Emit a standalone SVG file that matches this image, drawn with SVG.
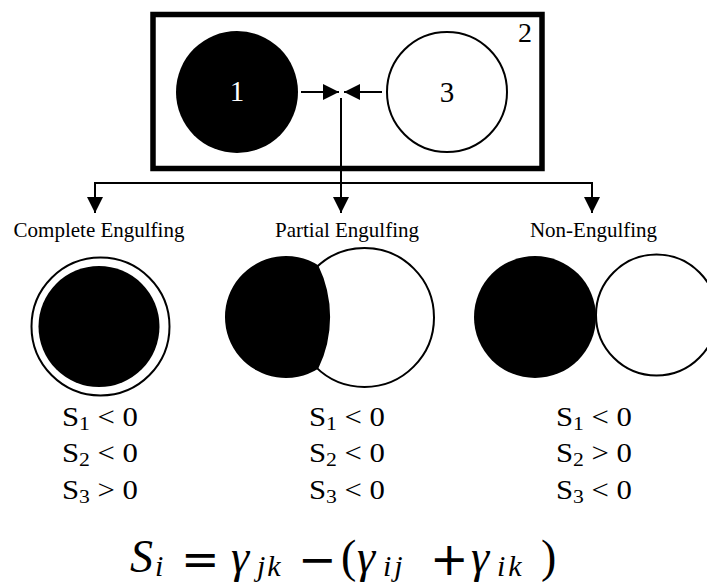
<svg xmlns="http://www.w3.org/2000/svg" width="707" height="585" viewBox="0 0 707 585">
<style>
.t{font-family:"Liberation Serif","Times New Roman",serif;fill:#000}
.lab{font-size:21px;text-anchor:middle}
.s{font-size:27px}
.sub{font-size:19px}
.ln{stroke:#000;stroke-width:2;fill:none}
.wc{fill:#fff;stroke:#000;stroke-width:2}
.f{font-family:"Liberation Serif","Times New Roman",serif;font-size:46px}
.fi{font-style:italic}
.fs{font-style:italic;font-size:30px}
.op{font-family:"DejaVu Sans","Liberation Sans",sans-serif;font-size:46px}
</style>
<defs>
<marker id="ah" markerUnits="userSpaceOnUse" markerWidth="16" markerHeight="16" refX="16" refY="8" orient="auto">
<path d="M0,0 L16,8 L0,16 z" fill="#000"/>
</marker>
</defs>
<rect width="707" height="585" fill="#fff"/>
<g id="box">
<rect x="153" y="14.5" width="389" height="154" fill="#fff" stroke="#000" stroke-width="5.5"/>
<text class="t" x="518" y="42" font-size="28">2</text>
</g>
<g id="drop1">
<circle cx="237" cy="92" r="61" fill="#000"/>
<text class="t" x="237" y="101" font-size="29" text-anchor="middle" style="fill:#fff">1</text>
</g>
<g id="drop3">
<circle class="wc" cx="447" cy="92" r="60"/>
<text class="t" x="447" y="102" font-size="29" text-anchor="middle">3</text>
</g>
<g id="connectors">
<line class="ln" x1="301" y1="92" x2="339" y2="92" marker-end="url(#ah)"/>
<line class="ln" x1="382" y1="92" x2="344" y2="92" marker-end="url(#ah)"/>
<line class="ln" x1="341" y1="98" x2="341" y2="213" marker-end="url(#ah)"/>
<polyline class="ln" points="95,200 95,183 592,183 592,200"/>
<line class="ln" x1="95" y1="183" x2="95" y2="213" marker-end="url(#ah)"/>
<line class="ln" x1="592" y1="183" x2="592" y2="213" marker-end="url(#ah)"/>
</g>
<g id="complete">
<text class="t lab" x="99" y="237">Complete Engulfing</text>
<circle class="wc" cx="100.5" cy="326.5" r="69"/>
<circle cx="99" cy="326.5" r="60.5" fill="#000"/>
<text class="t s" x="62" y="426" textLength="76" lengthAdjust="spacingAndGlyphs">S<tspan class="sub" dy="4">1</tspan><tspan dy="-4"> &lt; 0</tspan></text>
<text class="t s" x="62" y="462" textLength="76" lengthAdjust="spacingAndGlyphs">S<tspan class="sub" dy="4">2</tspan><tspan dy="-4"> &lt; 0</tspan></text>
<text class="t s" x="62" y="499" textLength="76" lengthAdjust="spacingAndGlyphs">S<tspan class="sub" dy="4">3</tspan><tspan dy="-4"> &gt; 0</tspan></text>
</g>
<g id="partial">
<text class="t lab" x="347" y="237">Partial Engulfing</text>
<circle class="wc" cx="364.5" cy="317.5" r="69.5"/>
<path d="M318.2,265.2 A61,61 0 1,0 318.2,368.8 A118.7,118.7 0 0,0 318.2,265.2 z" fill="#000"/>
<text class="t s" x="309" y="426" textLength="76" lengthAdjust="spacingAndGlyphs">S<tspan class="sub" dy="4">1</tspan><tspan dy="-4"> &lt; 0</tspan></text>
<text class="t s" x="309" y="462" textLength="76" lengthAdjust="spacingAndGlyphs">S<tspan class="sub" dy="4">2</tspan><tspan dy="-4"> &lt; 0</tspan></text>
<text class="t s" x="309" y="499" textLength="76" lengthAdjust="spacingAndGlyphs">S<tspan class="sub" dy="4">3</tspan><tspan dy="-4"> &lt; 0</tspan></text>
</g>
<g id="non">
<text class="t lab" x="593.5" y="237">Non-Engulfing</text>
<circle class="wc" cx="656.5" cy="315" r="60.5"/>
<circle cx="535" cy="317" r="61" fill="#000"/>
<text class="t s" x="556" y="426" textLength="76" lengthAdjust="spacingAndGlyphs">S<tspan class="sub" dy="4">1</tspan><tspan dy="-4"> &lt; 0</tspan></text>
<text class="t s" x="556" y="462" textLength="76" lengthAdjust="spacingAndGlyphs">S<tspan class="sub" dy="4">2</tspan><tspan dy="-4"> &gt; 0</tspan></text>
<text class="t s" x="556" y="499" textLength="76" lengthAdjust="spacingAndGlyphs">S<tspan class="sub" dy="4">3</tspan><tspan dy="-4"> &lt; 0</tspan></text>
</g>
<g id="formula">
<text class="f"><tspan class="fi" x="130" y="572">S</tspan><tspan class="fs" x="155" y="576">i</tspan><tspan class="op" x="181" y="575">=</tspan><tspan class="fi" x="231" y="572">γ</tspan><tspan class="fs" x="257" y="576" letter-spacing="2">jk</tspan><tspan class="op" x="298" y="575">−</tspan><tspan x="341" y="572">(</tspan><tspan class="fi" x="357" y="572">γ</tspan><tspan class="fs" x="383" y="576" letter-spacing="3">ij</tspan><tspan class="op" x="430" y="575">+</tspan><tspan class="fi" x="471" y="572">γ</tspan><tspan class="fs" x="497" y="576" letter-spacing="3">ik</tspan><tspan x="541" y="572">)</tspan></text>
</g>
</svg>
